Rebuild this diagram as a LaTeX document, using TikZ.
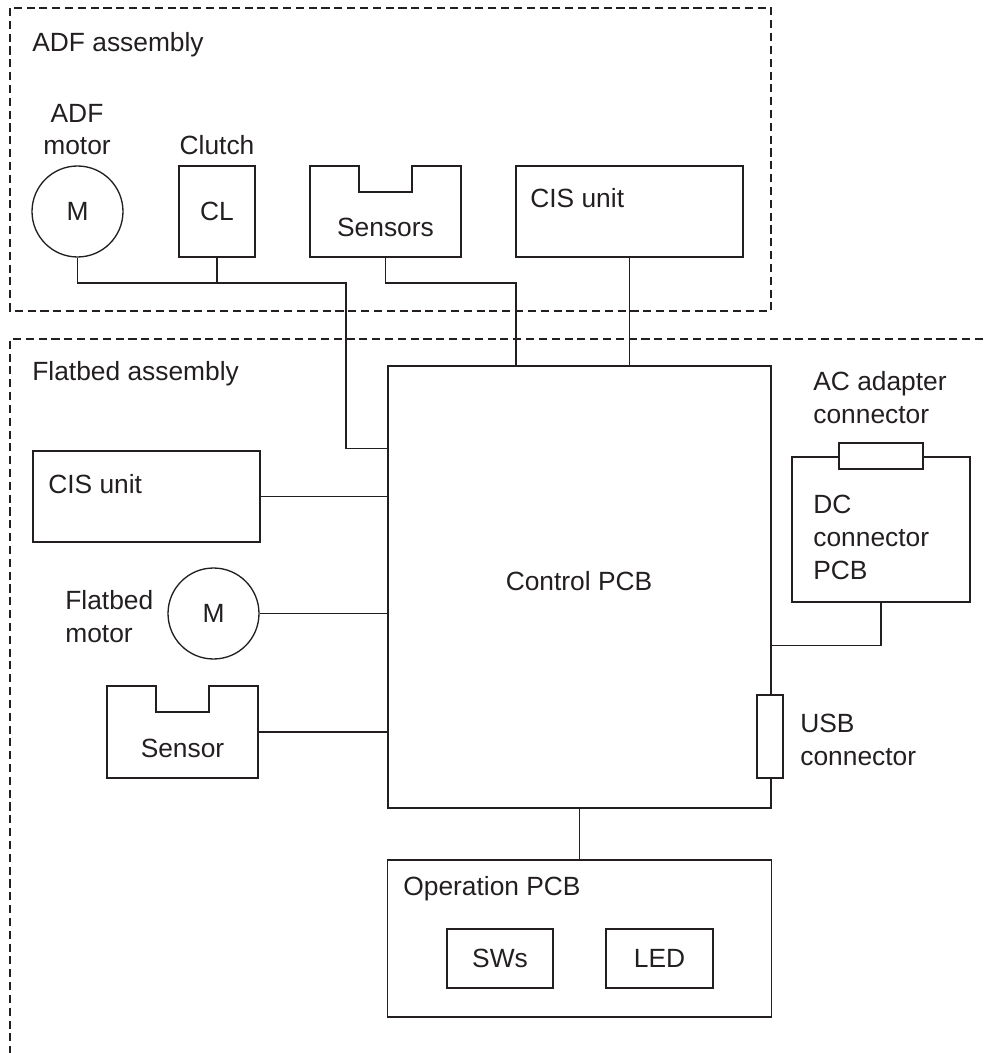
\documentclass[tikz,border=0pt]{standalone}
\usepackage{fontspec}
\setmainfont{Liberation Sans}
\usetikzlibrary{calc}

\definecolor{ink}{HTML}{231F20}

\begin{document}
\begin{tikzpicture}[x=0.02cm, y=-0.02cm,
  every node/.style={font=\fontsize{15}{18.5}\selectfont, text=ink},
  part/.style={draw=ink, line width=0.75pt, inner sep=0pt},
  box/.style={part, rectangle},
  mot/.style={part, circle, minimum size=1.82cm},
  txt/.style={anchor=base west, inner sep=0pt, align=left},
  ctr/.style={anchor=base, inner sep=0pt, align=center},
  wire/.style={draw=ink, line width=0.75pt},
  frame/.style={draw=ink, line width=0.75pt, dash pattern=on 4.6pt off 2.7pt}
]
  \useasboundingbox (0,0) rectangle (983,1053);

  % ADF assembly
  \draw[frame] (10,8) rectangle (771,311);
  \node[txt] (adfT) at (32,52) {ADF assembly};
  \node[mot] (motA) at (77.5,211.5) {M};
  \node[ctr] (motAT) at (77,155) {ADF\\motor};
  \node[box, minimum width=1.52cm, minimum height=1.82cm] (clA) at (217,211.5) {CL};
  \node[ctr] (clAT) at (217,155) {Clutch};
  \node[box, minimum width=3.02cm, minimum height=1.82cm] (sensA) at (385.5,211.5) {};
  \node[ctr] (sensAT) at (385.5,237) {Sensors};
  \node[box, minimum width=4.54cm, minimum height=1.82cm] (cisA) at (629.5,211.5) {};
  \node[txt] (cisAT) at (530,208) {CIS unit};

  % Flatbed assembly
  \draw[frame] (983,339) -- (10,339) -- (10,1053);
  \node[txt] (fbT) at (32,381) {Flatbed assembly};
  \node[box, minimum width=7.66cm, minimum height=8.84cm] (pcb) at (579.5,587) {};
  \node[ctr] (pcbT) at (579,590) {Control PCB};
  \node[box, minimum width=4.54cm, minimum height=1.82cm] (cisB) at (146.5,496.5) {};
  \node[txt] (cisBT) at (48,493) {CIS unit};
  \node[mot] (motB) at (213.5,613.5) {M};
  \node[txt] (motBT) at (65,642) {Flatbed\\motor};
  \node[box, minimum width=3.02cm, minimum height=1.84cm] (sensB) at (182.5,732) {};
  \node[ctr] (sensBT) at (182.5,757) {Sensor};

  % sensor notches
  \foreach \s in {sensA,sensB} {
    \fill[white] ($(\s.north)+(-26.5,-2)$) rectangle ($(\s.north)+(26.5,26.5)$);
    \draw[wire] ($(\s.north)+(-26.5,0)$) -- ++(0,26.5) -- ++(53,0) -- ++(0,-26.5);
  }

  % DC connector PCB
  \node[box, minimum width=3.56cm, minimum height=2.9cm] (dcB) at (881,529.5) {};
  \node[box, fill=white, minimum width=1.68cm, minimum height=0.52cm] (acC) at (881,456) {};
  \node[txt] (acT) at (813,423) {AC adapter\\connector};
  \node[txt] (dcT) at (813,579) {DC\\connector\\PCB};

  % USB connector
  \node[box, fill=white, minimum width=0.52cm, minimum height=1.66cm] (usbC) at (770,736.5) {};
  \node[txt] (usbT) at (800,765) {USB\\connector};

  % Operation PCB
  \node[box, minimum width=7.68cm, minimum height=3.14cm] (opB) at (579.5,938.5) {};
  \node[txt] (opT) at (403,895) {Operation PCB};
  \node[box, minimum width=2.12cm, minimum height=1.18cm] (swB) at (500,958.5) {SWs};
  \node[box, minimum width=2.14cm, minimum height=1.18cm] (ledB) at (659.5,958.5) {LED};

  % wiring
  \coordinate (busA) at (346,283);
  \coordinate (tapS) at (516,283);
  \draw[wire] (motA.south) |- (busA) |- ($(pcb.north west)+(0,83)$);
  \draw[wire] (clA.south) -- (clA.south |- busA);
  \draw[wire] (sensA.south) |- (tapS) -- (tapS |- pcb.north);
  \draw[wire] (cisA.south) -- (cisA.south |- pcb.north);
  \draw[wire] (cisB.east) -- (cisB.east -| pcb.west);
  \draw[wire] (motB.east) -- (motB.east -| pcb.west);
  \draw[wire] (sensB.east) -- (sensB.east -| pcb.west);
  \draw[wire] (dcB.south) |- ($(pcb.north east)+(0,280)$);
  \draw[wire] (pcb.south) -- (opB.north);
\end{tikzpicture}
\end{document}
